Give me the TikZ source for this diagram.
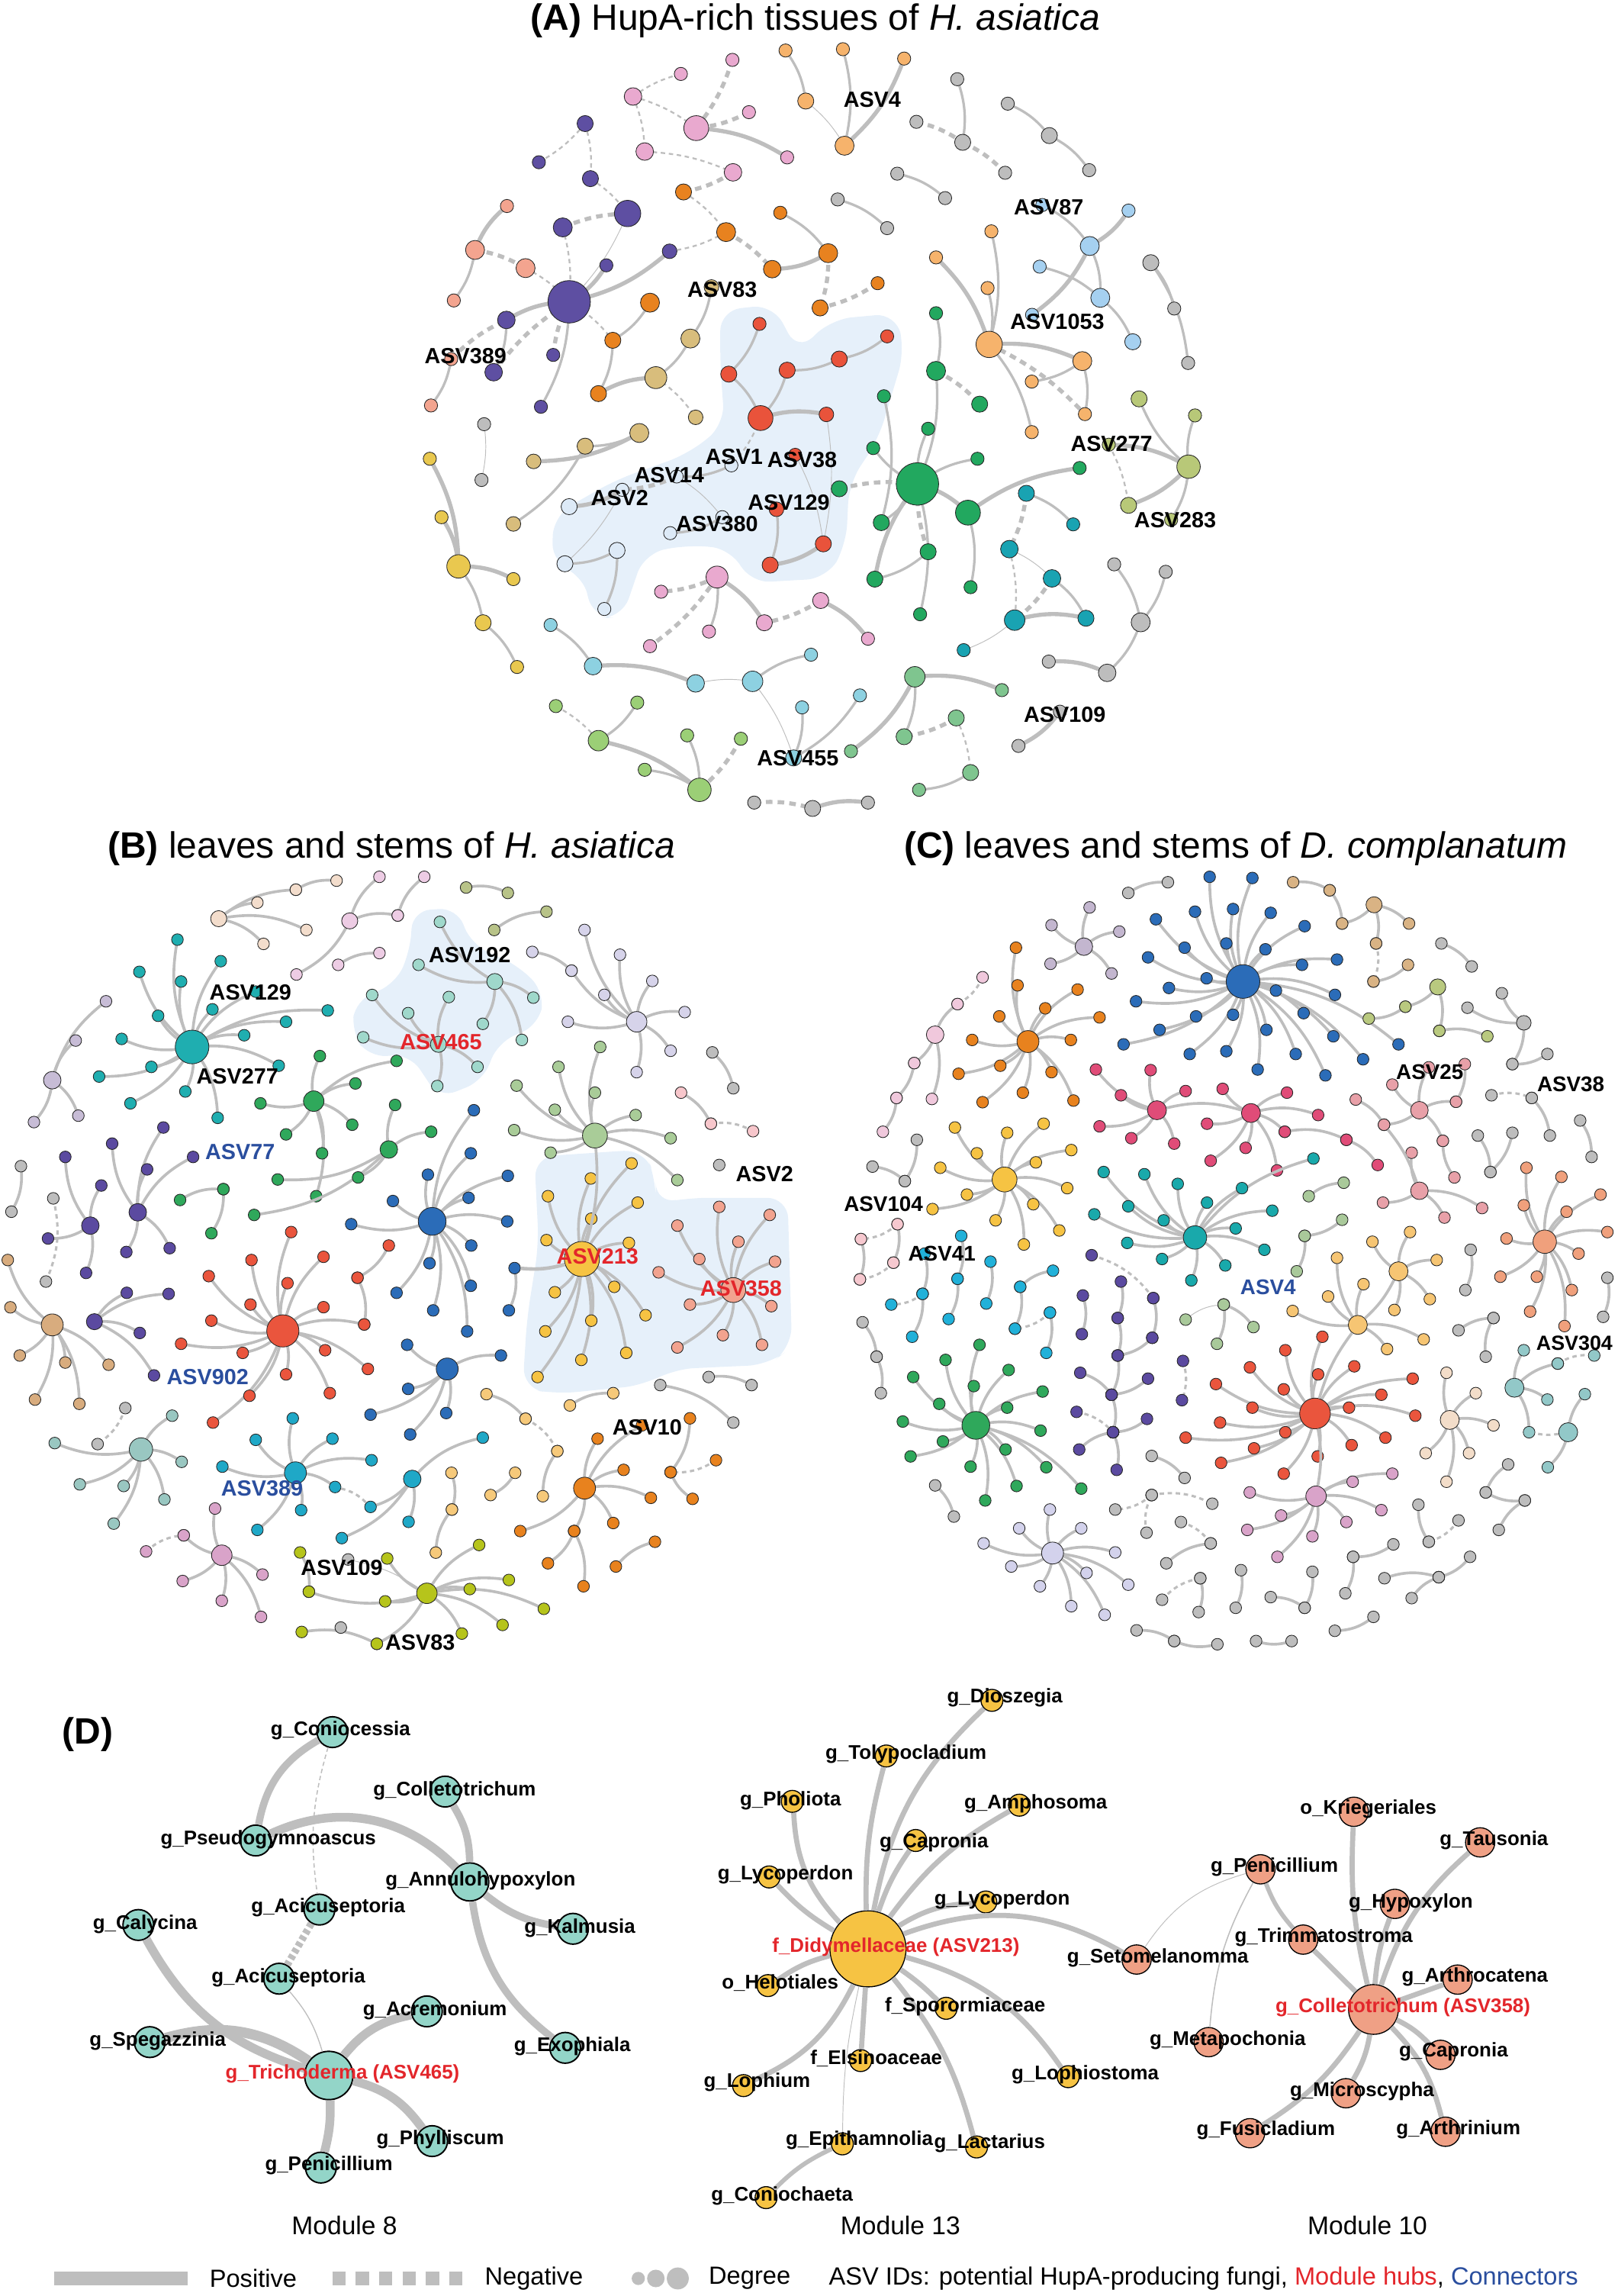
\documentclass[tikz,border=0pt]{standalone}
\usepackage{fontspec}
\setmainfont{Liberation Sans}
% edges / misc
\definecolor{edgeG}{HTML}{BEBEBE}\definecolor{blobC}{HTML}{E6F0FA}
\definecolor{labR}{HTML}{E3262B}\definecolor{labB}{HTML}{2A4E9E}\definecolor{grN}{HTML}{BDBDBD}
% A
\definecolor{pkA}{HTML}{E9A9CF}\definecolor{loA}{HTML}{F6B36C}\definecolor{puA}{HTML}{5E4FA2}
\definecolor{saA}{HTML}{F3A48F}\definecolor{odA}{HTML}{E8821F}\definecolor{tnA}{HTML}{D8BD7C}
\definecolor{rdA}{HTML}{E9533B}\definecolor{lbA}{HTML}{A5D0F0}\definecolor{gnA}{HTML}{22A85F}
\definecolor{ovA}{HTML}{B8C878}\definecolor{ywA}{HTML}{E9C84F}\definecolor{vbA}{HTML}{DDEAF7}
\definecolor{tlA}{HTML}{19A3B2}\definecolor{lcA}{HTML}{8DD1E1}\definecolor{lgA}{HTML}{9BCF76}
\definecolor{mgA}{HTML}{7FC58F}
% B
\definecolor{lvB}{HTML}{C7BCD6}\definecolor{pcB}{HTML}{F3DDCC}\definecolor{lpB}{HTML}{EDCCE4}
\definecolor{oB}{HTML}{B8C388}\definecolor{ltB}{HTML}{9FD8CB}\definecolor{tlB}{HTML}{1FAEB0}
\definecolor{gnB}{HTML}{2FA85B}\definecolor{puB}{HTML}{5B4AA0}\definecolor{tnB}{HTML}{D8AC7E}
\definecolor{rdB}{HTML}{EA553D}\definecolor{blB}{HTML}{2B6CB8}\definecolor{yeB}{HTML}{F6C343}
\definecolor{pgB}{HTML}{A9CC98}\definecolor{lvBb}{HTML}{D6D3EA}\definecolor{slB}{HTML}{F2A38F}
\definecolor{pkB}{HTML}{F7C6CB}\definecolor{orB}{HTML}{E8821E}\definecolor{loB}{HTML}{F6C97A}
\definecolor{cyB}{HTML}{1FA8C7}\definecolor{gtB}{HTML}{99C7C1}\definecolor{mvB}{HTML}{D9A3C9}
\definecolor{ygB}{HTML}{B6C41B}
% C
\definecolor{glC}{HTML}{C3B6CF}\definecolor{plC}{HTML}{F0C8DC}\definecolor{tnC}{HTML}{D9B384}
\definecolor{ovC}{HTML}{B9C97F}\definecolor{mgC}{HTML}{E04C78}\definecolor{psC}{HTML}{E8A0A8}
\definecolor{soC}{HTML}{F0A07C}\definecolor{tgC}{HTML}{92C8C8}\definecolor{crC}{HTML}{F3DDC9}
\definecolor{pkC}{HTML}{F6C8CF}\definecolor{cyC}{HTML}{21B1D9}\definecolor{tlC}{HTML}{19A9AB}
\definecolor{lgC}{HTML}{A9C99A}\definecolor{lyC}{HTML}{F6C573}\definecolor{lvC}{HTML}{D3D2EC}
% D
\definecolor{tqD}{HTML}{93D5C8}\definecolor{yeD}{HTML}{F6C343}\definecolor{slD}{HTML}{EFA085}

\def\spk{8pt}
\tikzset{
 nd/.style={circle,draw=black!85,line width=0.45pt,inner sep=0pt,minimum size=\spk},
 sp/.style={draw=edgeG,line width=1.9pt},
 spd/.style={draw=edgeG,line width=1.6pt,dash pattern=on 3pt off 2.5pt},
 spt/.style={draw=edgeG,line width=0.5pt},
 pthick/.style={draw=edgeG,line width=2.8pt},
 pmed/.style={draw=edgeG,line width=1.7pt},
 pthin/.style={draw=edgeG,line width=0.5pt},
 nthick/.style={draw=edgeG,line width=2.8pt,dash pattern=on 4.5pt off 3.5pt},
 nthin/.style={draw=edgeG,line width=1.2pt,dash pattern=on 3pt off 2.5pt},
 labA/.style={font=\bfseries\fontsize{15}{15}\selectfont,inner sep=0pt},
 labC/.style={font=\bfseries\fontsize{14.5}{15}\selectfont,inner sep=0pt},
 labD/.style={font=\bfseries\fontsize{13.5}{14}\selectfont,inner sep=0pt},
 ttl/.style={font=\fontsize{25}{25}\selectfont,inner sep=0pt},
 modl/.style={font=\fontsize{17.5}{18}\selectfont,inner sep=0pt},
 legt/.style={font=\fontsize{17}{17}\selectfont,inner sep=0pt},
 de/.style={draw=edgeG},
}
% hub with spokes: edges first (between coordinates), then nodes on top
\newcommand\hubc[6]{%
  \coordinate (#1) at (#3,#4);
  \foreach \px/\py [count=\k] in {#6}{%
    \coordinate (#1-\k) at (\px,\py);
    \draw[sp] (#1) to[bend left=18] (#1-\k);}
  \node[nd,fill=#2,minimum size=#5pt] (#1) at (#3,#4) {};
  \foreach \px/\py [count=\k] in {#6}{%
    \node[nd,fill=#2] (#1-\k) at (\px,\py) {};}}
% pairs
\newcommand\prs[4]{%
  \foreach \ax/\ay/\bx/\by [count=\k] in {#4}{%
    \coordinate (#1-\k-a) at (\ax,\ay);
    \coordinate (#1-\k-b) at (\bx,\by);
    \draw[#3] (#1-\k-a) to[bend left=18] (#1-\k-b);}
  \foreach \ax/\ay/\bx/\by [count=\k] in {#4}{%
    \node[nd,fill=#2] (#1-\k-a) at (\ax,\ay) {};
    \node[nd,fill=#2] (#1-\k-b) at (\bx,\by) {};}}

\def\Alist{p1/500.3/40.9/pkA/9, p2/465.1/50.5/pkA/9, p3/432.4/65.9/pkA/12, p4/511.6/76.6/pkA/9, p5/475.6/87.5/pkA/17, p6/440.4/103.5/pkA/12, p7/537.7/107.5/pkA/9, p8/500.7/117.7/pkA/12,
o1/536.6/34.5/loA/9, o2/575.8/33.6/loA/9, o3/617.6/40.0/loA/9, o4/550.4/69.0/loA/11, o5/576.9/99.5/loA/13,
g1/653.9/54.1/grN/9, g2/688.4/70.8/grN/9, g3/626.0/83.2/grN/9, g4/657.6/97.2/grN/11, g5/716.8/92.6/grN/11, g6/686.6/118.0/grN/9, g7/744.0/116.2/grN/9, g8/612.9/118.6/grN/9, g9/645.6/135.3/grN/9, g10/572.2/136.2/grN/9, g11/606.0/155.8/grN/9, g12/786.1/179.4/grN/11, g13/802.1/210.7/grN/9, g14/811.6/247.9/grN/9,
u1/399.7/84.4/puA/11, u2/368.1/110.8/puA/9, u3/403.3/122.0/puA/11, u4/428.7/145.8/puA/18, u5/384.4/155.3/puA/13, u6/457.4/171.6/puA/10, u7/414.2/181.2/puA/9, u8/388.8/206.1/puA/29, u9/345.9/218.5/puA/12, u10/377.9/242.4/puA/9, u11/337.2/254.2/puA/12, u12/369.5/277.8/puA/9,
s1/346.3/140.7/saA/9, s2/324.5/170.7/saA/13, s3/359.0/183.1/saA/13, s4/310.0/205.2/saA/9, s5/308.2/245.2/saA/9, s6/294.4/276.9/saA/9,
r1/466.9/131.1/odA/11, r2/533.0/145.3/odA/9, r3/496.0/158.5/odA/13, r4/565.7/172.9/odA/13, r5/527.5/183.8/odA/12, r6/599.5/193.4/odA/9, r7/444.0/206.7/odA/13, r8/560.2/210.3/odA/11, r9/418.6/232.4/odA/11, r10/408.8/268.8/odA/11,
t0/486.0/196.0/tnA/10, t1/471.6/231.2/tnA/13, t2/448.0/257.9/tnA/15, t3/475.2/285.0/tnA/10, t4/436.7/295.7/tnA/13, t5/399.7/304.7/tnA/11, t6/364.5/315.1/tnA/10, t7/350.7/357.8/tnA/10,
e1/518.8/221.2/rdA/9, e2/606.0/229.7/rdA/9, e3/497.8/255.5/rdA/11, e4/537.7/252.8/rdA/11, e5/573.3/245.2/rdA/11, e6/519.5/285.5/rdA/17, e7/564.5/283.0/rdA/10, e8/543.2/310.6/rdA/9, e9/530.4/347.8/rdA/10, e10/562.4/371.4/rdA/11, e11/526.1/385.9/rdA/11,
l1/677.2/158.0/loA/9, l2/639.4/175.8/loA/9, l3/674.6/196.7/loA/9, l4/675.7/235.2/loA/18, l5/739.3/246.6/loA/13, l6/704.8/260.6/loA/9, l7/741.1/282.8/loA/9, l8/704.8/295.1/loA/9,
b0/712.0/140.0/lbA/9, b1/770.9/143.8/lbA/9, b2/744.4/168.0/lbA/13, b3/710.2/182.1/lbA/9, b4/751.6/203.4/lbA/13, b5/705.0/215.0/lbA/9, b6/773.8/233.4/lbA/11,
n1/639.4/213.9/gnA/9, n2/639.4/253.3/gnA/13, n3/603.8/270.6/gnA/9, n4/669.2/276.0/gnA/11, n5/634.0/292.8/gnA/9, n6/596.5/306.0/gnA/9, n7/667.7/313.3/gnA/9, n8/737.5/319.6/gnA/9, n9/626.7/330.5/gnA/29, n10/573.3/333.8/gnA/11, n11/661.2/350.1/gnA/17, n12/602.0/356.9/gnA/11, n13/634.0/376.8/gnA/11, n14/597.6/395.5/gnA/11, n15/663.0/401.0/gnA/9, n16/628.5/419.5/gnA/9,
c1/701.1/336.9/tlA/11, c2/733.1/358.1/tlA/9, c3/689.5/375.0/tlA/12, c4/718.6/395.0/tlA/12, c5/693.1/423.5/tlA/14, c6/741.8/422.2/tlA/11, c7/658.3/444.0/tlA/9,
v1/757.4/303.7/ovA/9, v2/816.3/283.7/ovA/9, v3/811.9/318.7/ovA/16, v4/770.9/345.1/ovA/11, v5/800.0/355.0/ovA/9, v6/778.1/272.4/ovA/11,
y1/293.6/313.3/ywA/9, y2/301.6/353.2/ywA/9, y3/313.2/386.8/ywA/16, y4/350.7/395.5/ywA/9, y5/330.0/425.3/ywA/11, y6/353.2/455.5/ywA/9,
g15/330.7/289.7/grN/9, g16/328.9/327.8/grN/9, g17/761.1/385.4/grN/9, g18/796.3/390.5/grN/9, g19/779.2/425.0/grN/13, g20/716.4/451.8/grN/9, g21/756.3/459.5/grN/12, g22/695.7/509.4/grN/9, g23/724.0/486.0/grN/9, g24/515.2/548.1/grN/9, g25/555.1/552.1/grN/11, g26/592.9/548.1/grN/9,
w1/499.6/317.8/vbA/9, w2/462.2/325.4/vbA/9, w3/425.1/334.5/vbA/9, w4/388.8/346.0/vbA/11, w5/493.4/353.2/vbA/9, w6/457.8/364.1/vbA/9, w7/421.5/375.9/vbA/11, w8/385.9/385.0/vbA/11, w9/412.8/415.9/vbA/9,
q1/489.8/394.1/pkA/15, q2/451.6/404.1/pkA/9, q3/560.6/410.1/pkA/11, q4/522.1/425.3/pkA/11, q5/484.3/431.3/pkA/9, q6/592.9/436.2/pkA/9, q7/444.0/441.3/pkA/9,
k1/376.1/426.8/lcA/9, k2/405.1/454.9/lcA/12, k3/475.2/466.7/lcA/12, k4/514.1/465.3/lcA/14, k5/554.0/447.1/lcA/9, k6/547.9/483.1/lcA/9, k7/587.4/474.9/lcA/9, k8/542.1/517.6/lcA/11,
h1/379.7/482.2/lgA/9, h2/435.3/479.8/lgA/9, h3/408.8/505.8/lgA/14, h4/469.4/502.2/lgA/9, h5/506.1/504.5/lgA/9, h6/440.4/525.7/lgA/9, h7/477.8/539.4/lgA/16,
m1/624.9/462.2/mgA/14, m2/684.4/471.3/mgA/9, m3/653.2/490.3/mgA/11, m4/617.6/503.1/mgA/11, m5/581.3/513.0/mgA/9, m6/663.0/527.6/mgA/11, m7/627.8/539.4/mgA/9}

\begin{document}
\begin{tikzpicture}[x=1pt,y=-1pt]
\useasboundingbox (0,0) rectangle (1105,1568);
%%%%%%%%%%%%%%%% blobs (behind everything) %%%%%%%%%%%%%%%%
\fill[blobC,rounded corners=14pt] (492,212) -- (528,208) -- (545,240) -- (568,218) -- (612,214) -- (618,240) -- (600,300) -- (580,330) -- (578,372) -- (565,395) -- (512,398) -- (500,375) -- (470,372) -- (440,378) -- (425,422) -- (405,422) -- (398,392) -- (377,385) -- (378,352) -- (420,328) -- (470,310) -- (495,290) -- (492,250) -- cycle;
\fill[blobC,rounded corners=12pt] (282,622) -- (312,620) -- (322,645) -- (355,660) -- (372,678) -- (368,700) -- (340,712) -- (330,738) -- (300,750) -- (290,735) -- (280,720) -- (252,722) -- (240,705) -- (243,683) -- (270,672) -- (280,650) -- cycle;
\fill[blobC,rounded corners=14pt] (365,790) -- (440,785) -- (448,805) -- (448,822) -- (470,818) -- (538,818) -- (541,920) -- (525,932) -- (460,935) -- (440,946) -- (380,952) -- (357,948) -- (360,900) -- (368,850) -- cycle;

%%%%%%%%%%%%%%%% PANEL A %%%%%%%%%%%%%%%%
\node[ttl] (tA) at (557,14) {\textbf{(A)} HupA-rich tissues of \textit{H. asiatica}};
\foreach \nm/\x/\y/\cl/\sz in \Alist {\coordinate (\nm) at (\x,\y);}
\foreach \a/\b in {p5/p7, o3/o5, u6/u8, u7/u8, u9/u8, r4/r5, t4/t6, r10/t2, e6/e7, l2/l4, l4/l5, b1/b2, b2/b5, n11/n8, n9/n11, v1/v3, v3/v4, y1/y3, y2/y3, y3/y4, w3/w4, g20/g21, g23/g22, g25/g26, q1/q4, q3/q6, k2/k3, h3/h7, c5/c6, m1/m2, m1/m5, e10/e11, n14/n9, s2/s1}
 {\draw[pthick] (\a) to[bend left=14] (\b);}
\foreach \a/\b in {o1/o4, o2/o5, g1/g4, g2/g5, g5/g7, g8/g9, g10/g11, g12/g13, g12/g14, u8/u12, u9/u11, s2/s4, s5/s6, r2/r4, r7/r9, r9/r10, t0/t1, t1/t2, t5/t7, t4/t5, e1/e3, e2/e5, e5/e4, e4/e6, e3/e6, e9/e11, l1/l4, l3/l4, l5/l6, l5/l7, l4/l8, b2/b4, b4/b6, b0/b2, n1/n2, n2/n9, n9/n5, n9/n6, n9/n7, n9/n12, n9/n16, n11/n15, n13/n14, n3/n12, c1/c2, c4/c6, v3/v2, v3/v5, v3/v6, y3/y5, y5/y6, g17/g19, g18/g19, g19/g21, w1/w2, w5/w6, w7/w8, w7/w9, q1/q5, k1/k2, k6/k8, k7/k8, h2/h3, h4/h7, h6/h7, m1/m4, m6/m7, k4/k5, b3/b4}
 {\draw[pmed] (\a) to[bend left=14] (\b);}
\foreach \a/\b in {o4/o5, u4/u8, e8/e10, e7/e10, w2/w5, w3/w8, k4/k8, k3/k4, c3/c4, c5/c7, g15/g16}
 {\draw[pthin] (\a) to[bend left=10] (\b);}
\foreach \a/\b in {p1/p5, p8/r1, u5/u4, s2/s3, r4/r8, r6/r8, u11/u8, w2/w3, n10/n9, n13/n9, c1/c3, c4/c5, q1/q2, q1/q7, q3/q4, h5/h7, g24/g25, r3/r5, p4/p5, g3/g4, g4/g6, l4/l7, n2/n4, m3/m4, u10/u8, s5/u9}
 {\draw[nthick] (\a) to[bend left=10] (\b);}
\foreach \a/\b in {p3/p2, p3/p5, p3/p6, p6/p8, u1/u2, u1/u3, u3/u4, u5/u8, s3/u8, r1/r3, r3/u6, e6/w1, m3/m6, t2/t3, h1/h3, v1/v4, c3/c5, u8/r9}
 {\draw[nthin] (\a) to[bend left=10] (\b);}
\foreach \nm/\x/\y/\cl/\sz in \Alist {\node[nd,fill=\cl,minimum size=\sz pt] (\nm) at (\x,\y) {};}
\node[labA] (aL4) at (595.8,68.1) {ASV4};
\node[labA] (aL87) at (716.4,141.3) {ASV87};
\node[labA] (aL83) at (493.4,197.9) {ASV83};
\node[labA] (aL1053) at (722.2,219.7) {ASV1053};
\node[labA] (aL389) at (318.0,243.3) {ASV389};
\node[labA] (aL277) at (759.3,302.9) {ASV277};
\node[labA] (aL1) at (501.4,312.0) {ASV1};
\node[labA] (aL38) at (547.9,313.8) {ASV38};
\node[labA] (aL14) at (457.1,324.2) {ASV14};
\node[labA] (aL2) at (423.3,340.0) {ASV2};
\node[labA] (aL129) at (538.8,343.2) {ASV129};
\node[labA] (aL380) at (489.8,357.8) {ASV380};
\node[labA] (aL283) at (802.8,355.0) {ASV283};
\node[labA] (aL109) at (727.3,488.2) {ASV109};
\node[labA] (aL455) at (545.0,518.0) {ASV455};

%%%%%%%%%%%%%%%% PANEL B %%%%%%%%%%%%%%%%
\node[ttl] (tB) at (267.4,579.4) {\textbf{(B)} leaves and stems of \textit{H. asiatica}};
\hubc{bT}{tlB}{131.2}{715.0}{23}{121.2/641.7, 150.8/656.4, 95.2/663.7, 123.7/670.3, 145.1/689.3, 108.0/693.7, 195.4/697.8, 223.9/690.1, 83.1/709.5, 166.8/707.0, 103.4/728.6, 67.7/735.2, 190.4/727.8, 126.6/745.4, 89.1/753.5, 148.7/763.4, 174.7/677.2}
\hubc{bL}{lvB}{35.7}{737.7}{12}{72.4/683.8, 51.7/710.6, 23.2/766.3, 53.5/761.9}
\hubc{bP}{pcB}{149.4}{627.4}{11}{175.8/616.4, 202.1/607.6, 209.3/635.1, 180.0/644.6}
\hubc{bK}{lpB}{238.9}{628.9}{11}{259.2/598.8, 202.5/665.5, 271.7/625.2}
\hubc{bH}{ltB}{299.5}{713.2}{11}{254.2/679.5, 278.8/691.9, 248.1/708.4, 326.2/728.6, 298.7/741.7, 306.6/680.9}
\hubc{bHb}{ltB}{338.0}{670.3}{11}{300.5/629.6, 285.9/658.9, 364.3/681.3, 356.5/710.2, 329.8/699.2}
\hubc{bG}{gnB}{214.3}{752.0}{14}{218.5/721.2, 242.8/739.9, 270.9/724.5, 177.9/753.5, 195.4/774.7, 240.6/768.1, 220.0/787.6, 216.0/816.9}
\hubc{bGb}{gnB}{265.6}{785.0}{12}{269.9/754.6, 294.5/772.9, 244.6/804.1, 189.7/805.5, 173.6/829.7}
\hubc{bU}{puB}{94.1}{827.9}{12}{111.6/770.0, 76.6/781.0, 100.5/798.6, 86.3/855.0, 115.9/852.4, 131.9/790.1}
\hubc{bUb}{puB}{61.7}{837.0}{12}{44.6/790.1, 69.2/809.6, 32.8/845.8, 58.8/869.3}
\hubc{bUc}{puB}{64.5}{902.6}{11}{86.6/882.9, 95.5/910.3, 105.2/939.3, 115.2/883.6}
\hubc{bN}{tnB}{35.7}{904.8}{15}{5.3/860.5, 7.1/892.8, 13.5/925.7, 23.9/955.8, 44.6/930.5, 74.2/932.0, 54.2/958.7}
\hubc{bR}{rdB}{193.2}{908.9}{22}{198.9/841.4, 171.8/860.5, 221.0/858.3, 142.6/871.5, 196.4/876.3, 171.1/890.9, 221.0/892.7, 144.4/901.9, 248.8/904.5, 123.7/917.7, 165.8/923.9, 222.1/922.1, 195.4/938.6, 170.4/953.2, 225.3/951.4, 251.3/934.9, 145.5/971.5}
\hubc{bB}{blB}{295.2}{834.1}{19}{323.7/758.2, 321.6/787.6, 292.3/802.2, 346.9/803.0, 268.4/820.2, 320.1/818.0, 239.9/836.0, 346.5/834.1, 321.9/850.6, 293.4/862.7, 270.9/882.9, 321.6/878.1, 295.9/894.9, 319.1/909.2}
\hubc{bBb}{blB}{305.5}{934.9}{15}{278.1/918.4, 342.2/925.7, 278.8/948.5, 304.8/965.0, 253.1/966.1, 280.2/979.6}
\hubc{bY}{yeB}{397.5}{859.8}{24}{431.4/794.5, 403.6/804.8, 374.3/816.9, 435.6/821.3, 403.9/832.3, 373.3/846.9, 429.6/848.8, 419.6/878.8, 379.0/882.5, 441.0/898.2, 403.9/901.9, 372.5/909.2, 427.8/923.9, 397.1/928.7, 367.2/940.4}
\hubc{bQ}{pgB}{406.4}{775.5}{17}{410.0/715.0, 381.5/728.6, 406.4/746.2, 379.0/757.9, 434.2/761.5, 351.2/771.8, 458.1/777.3, 376.1/787.2, 462.7/805.9, 352.9/741.4}
\hubc{bV}{lvBb}{434.9}{697.8}{14}{399.3/635.1, 423.5/652.0, 390.4/662.9, 412.8/679.4, 445.6/669.9, 467.7/691.2, 387.9/697.8, 458.1/717.6, 434.9/732.2}
\hubc{bS}{slB}{500.9}{881.0}{17}{462.7/837.0, 491.3/824.2, 525.8/829.7, 504.4/848.0, 477.7/859.8, 529.4/861.6, 449.9/868.9, 471.3/890.9, 526.9/892.0, 493.8/911.8, 462.7/920.2, 520.5/918.4}
\hubc{bO}{orB}{399.3}{1016.3}{15}{408.2/982.5, 426.0/1003.8, 444.6/1022.9, 418.9/1040.1, 392.2/1045.6, 355.4/1045.6, 438.5/973.4}
\hubc{bC}{cyB}{201.8}{1005.8}{15}{200.0/968.6, 174.7/983.3, 227.1/982.5, 151.9/1001.6, 253.8/997.2, 228.9/1015.5, 205.7/1031.3, 175.8/1044.8}
\hubc{bCb}{cyB}{281.6}{1010.0}{12}{253.1/1029.1, 279.1/1039.3, 233.5/1050.4, 329.8/981.8}
\hubc{bX}{gtB}{96.3}{989.9}{16}{117.6/966.8, 37.4/985.5, 124.1/998.3, 54.5/1013.7, 84.5/1014.8, 112.3/1024.0, 77.7/1040.5}
\hubc{bM}{mvB}{151.5}{1062.1}{14}{146.9/1030.2, 125.5/1048.5, 179.3/1075.3, 124.8/1079.7, 151.5/1093.2, 178.3/1104.2}
\hubc{bW}{ygB}{291.6}{1088.1}{14}{264.5/1064.3, 327.3/1055.1, 211.0/1087.0, 263.1/1093.6, 320.9/1085.2, 347.6/1079.0, 371.5/1098.7, 343.3/1109.7, 315.5/1115.6, 257.4/1122.6}
\prs{bp1}{pcB}{sp}{202.1/607.6/229.9/601.4}
\prs{bp2}{lpB}{sp}{271.7/625.2/289.8/598.8, 231.0/658.9/259.2/650.9}
\prs{bp3}{oB}{sp}{318.4/606.1/346.9/609.8, 337.6/635.1/373.3/622.6}
\prs{bp4}{lvBb}{sp}{363.6/650.1/390.4/662.9}
\prs{bp5}{pkB}{sp}{465.2/746.2/485.6/767.4}
\prs{bp5d}{pkB}{spd}{485.6/767.4/514.4/772.5}
\prs{bp6}{grN}{sp}{486.6/718.7/500.9/743.2, 14.3/796.4/7.8/827.5, 451.0/945.9/500.9/971.5, 484.1/940.4/513.4/945.9}
\prs{bp6d}{grN}{spd}{36.4/818.4/31.4/875.2, 85.6/961.6/66.7/986.2}
\node[nd,fill=grN] (bN2) at (491.3,795.6) {};
\prs{bp7}{gnB}{sp}{152.6/812.1/144.4/842.2, 123.0/819.5/152.6/812.1}
\prs{bp8}{rdB}{sp}{244.2/872.6/248.8/904.5, 265.6/850.6/244.2/872.6}
\prs{bp9}{blB}{sp}{351.5/866.0/347.6/894.9}
\prs{bp10}{orB}{sp}{471.3/968.6/458.1/1005.4, 473.1/1023.6/458.1/1005.4, 392.2/1045.6/374.3/1067.6, 392.2/1045.6/398.6/1083.3, 420.7/1069.8/447.4/1052.9}
\prs{bp10d}{orB}{spd}{489.1/997.2/458.1/1005.4}
\prs{bp11}{loB}{sp}{332.3/952.1/359.0/968.9, 389.3/959.8/418.9/951.4, 308.4/1005.8/308.7/1030.9, 351.9/1005.8/335.1/1021.0, 370.8/1021.8/380.7/991.0, 297.7/1060.3/308.7/1030.9}
\prs{bp11d}{loB}{spd}{359.0/968.9/380.7/991.0}
\prs{bp12}{mvB}{spd}{99.8/1059.5/125.5/1048.5}
\prs{bp13}{ygB}{sp}{205.0/1060.2/211.0/1087.0, 206.1/1114.5/257.4/1122.6}
\node[nd,fill=grN] (bGr1) at (232.8,1111.5) {};
\node[nd,fill=grN] (bGr2) at (237.8,1065.0) {};
\draw[sp,line width=2.4pt] (bY) to[bend left=10] (bp9-1-a);
\draw[sp] (bQ) to[bend left=10] (bY);
\draw[spt] (bGr2) to[bend left=10] (bW);
\draw[spd] (bC-6) to[bend left=15] (bCb-1);
\node[labA] (bL192) at (320.9,652.0) {ASV192};
\node[labA] (bL129) at (171.1,677.6) {ASV129};
\node[labA,text=labR] (bL465) at (301.2,711.7) {ASV465};
\node[labA] (bL277) at (162.2,735.2) {ASV277};
\node[labA,text=labB] (bL77) at (164.0,786.5) {ASV77};
\node[labA] (bL2) at (522.3,801.9) {ASV2};
\node[labA,text=labR] (bL213) at (408.2,857.9) {ASV213};
\node[labA,text=labR] (bL358) at (506.2,880.0) {ASV358};
\node[labA,text=labB] (bL902) at (141.9,940.4) {ASV902};
\node[labA] (bL10) at (442.1,974.5) {ASV10};
\node[labA,text=labB] (bL389) at (179.0,1016.3) {ASV389};
\node[labA] (bL109) at (233.5,1070.5) {ASV109};
\node[labA] (bL83) at (287.0,1121.8) {ASV83};

%%%%%%%%%%%%%%%% PANEL C %%%%%%%%%%%%%%%%
\node[ttl] (tC) at (844,579.4) {\textbf{(C)} leaves and stems of \textit{D. complanatum}};
\hubc{cB}{blB}{849.1}{670.3}{23}{826.3/598.8, 855.5/599.6, 816.3/622.6, 842.3/620.8, 868.0/623.4, 789.6/627.8, 891.2/632.5, 809.2/647.2, 837.7/644.3, 864.4/648.3, 784.2/653.8, 913.3/655.3, 889.4/658.9, 824.2/668.1, 798.5/674.7, 871.6/676.5, 911.9/679.4, 776.0/683.8, 817.0/694.1, 842.3/693.0, 890.5/691.9, 792.1/703.3, 865.1/703.3, 910.8/707.7, 767.5/713.2, 837.7/717.9, 812.7/719.8, 885.1/719.8, 859.1/730.4, 931.1/723.4, 905.4/734.4, 955.3/713.2}
\hubc{cO}{orB}{702.2}{711.3}{15}{694.0/647.2, 695.1/672.9, 736.1/675.8, 682.6/694.1, 714.0/688.6, 751.1/694.8, 664.1/710.2, 731.5/710.2, 683.3/727.8, 654.8/733.3, 718.3/732.2, 698.7/746.2, 671.2/752.7, 733.3/751.6}
\hubc{cL}{glC}{740.4}{646.5}{12}{744.3/619.7, 718.3/631.8, 764.6/636.2, 717.6/658.2, 759.3/664.8}
\hubc{cK}{plC}{638.8}{706.6}{12}{654.1/685.7, 624.5/726.0, 636.6/750.5}
\hubc{cN}{tnC}{938.6}{617.9}{11}{916.8/630.7, 962.5/630.7, 940.0/644.3}
\hubc{cW}{ovC}{982.1}{674.0}{11}{960.0/687.5, 983.2/704.0}
\hubc{cH}{grN}{1040.9}{698.5}{10}{1025.9/678.3, 1002.4/688.2, 1033.1/726.7}
\hubc{cM}{mgC}{790.3}{758.2}{13}{748.6/730.4, 786.0/730.8, 765.7/748.0, 751.1/769.2, 772.8/777.3, 802.1/781.0, 809.9/745.1}
\hubc{cMb}{mgC}{854.5}{760.1}{13}{835.2/743.6, 879.1/746.2, 900.4/761.5, 877.6/772.9, 850.9/783.9, 827.0/792.7, 872.3/799.3, 824.5/767.4}
\hubc{cA}{psC}{969.6}{758.2}{12}{951.1/740.7, 976.0/728.9, 994.6/752.4, 945.4/768.1, 985.6/779.1}
\hubc{cAb}{psC}{969.6}{813.2}{12}{944.7/821.3, 986.7/831.5, 1012.4/825.0, 964.3/787.2}
\hubc{cS}{soC}{1055.2}{848.0}{16}{1042.7/797.5, 1066.6/803.7, 1093.3/815.8, 1040.9/823.1, 1070.1/827.5, 1029.1/845.8, 1098.0/841.4, 1078.3/856.1, 1024.9/871.9, 1049.8/871.9, 1073.7/881.0, 1045.2/895.7, 1068.7/905.6}
\hubc{cQ}{tgC}{1034.5}{947.7}{13}{1040.9/922.1, 1057.0/955.8, 1044.5/978.1, 1064.1/931.2}
\hubc{cQb}{tgC}{1071.2}{978.1}{13}{1082.6/952.1, 1057.3/1002.0}
\hubc{cE}{crC}{990.3}{969.7}{13}{988.1/937.5, 1008.1/951.4, 1020.2/973.4, 973.9/992.4, 1003.5/992.4, 988.1/1011.9}
\hubc{cY}{yeB}{686.2}{805.5}{17}{652.3/770.0, 688.0/773.6, 712.9/767.4, 667.3/787.6, 731.8/785.4, 642.3/797.5, 707.6/793.8, 729.0/811.4, 660.5/815.8, 637.0/825.7, 705.8/822.4, 680.1/833.4, 723.6/840.3, 699.4/849.9}
\hubc{cT}{tlC}{816.3}{845.1}{16}{753.9/800.4, 781.7/801.9, 804.5/808.5, 848.4/811.4, 747.5/829.3, 770.7/823.8, 794.9/833.4, 824.5/821.3, 869.1/826.8, 897.2/791.2, 770.0/848.8, 844.1/838.9, 863.7/853.5, 793.8/859.8, 837.0/864.2, 813.8/874.4}
\hubc{cF}{lyC}{955.3}{868.2}{13}{937.5/848.0, 963.2/841.4, 981.4/860.5, 976.7/887.2, 952.5/894.6}
\hubc{cFb}{lyC}{927.5}{904.8}{13}{913.3/859.0, 931.4/877.0, 907.2/885.4, 883.0/895.3, 947.5/921.3, 972.5/914.7}
\hubc{cR}{rdB}{898.3}{965.3}{21}{903.3/912.9, 878.0/922.1, 925.1/933.1, 853.8/933.8, 900.4/938.6, 965.0/941.5, 830.6/945.2, 876.9/948.8, 943.6/952.5, 855.5/961.3, 921.5/961.3, 966.8/966.8, 833.4/971.5, 809.9/981.8, 878.0/978.1, 946.4/981.8, 923.3/986.9, 856.6/989.1, 900.1/994.6, 834.1/999.0, 876.9/1006.4}
\hubc{cP}{mvB}{899.0}{1021.8}{14}{853.7/1019.2, 924.0/1011.9, 951.1/1006.4, 875.1/1035.0, 919.7/1039.4, 943.6/1031.3, 852.0/1044.8, 896.5/1049.2, 872.6/1063.2}
\hubc{cV}{lvC}{719.0}{1060.6}{15}{717.2/1030.9, 738.6/1043.7, 696.2/1043.7, 671.9/1054.0, 761.8/1060.2, 690.8/1069.8, 742.2/1074.2, 710.4/1083.3, 770.7/1082.2, 731.8/1096.9, 754.6/1102.8}
\hubc{cG}{gnB}{666.6}{973.4}{19}{669.1/918.4, 645.9/928.7, 689.0/935.6, 623.8/940.4, 665.2/946.6, 641.6/958.7, 712.2/950.3, 688.0/961.3, 616.7/970.8, 710.8/977.0, 644.1/984.4, 686.9/989.9, 622.0/994.6, 663.0/1001.6, 714.7/1002.0, 694.4/1014.8, 673.0/1024.7, 738.6/1016.6}
\prs{cp1}{grN}{sp}{770.7/609.8/797.8/602.5, 984.6/644.3/1005.3/660.0, 626.3/778.4/618.1/806.6, 596.0/796.7/618.1/806.6, 1046.3/749.8/1058.7/775.5, 1079.4/765.2/1087.2/790.1, 1009.5/775.5/1018.1/800.4, 1033.1/773.6/1018.1/800.4, 1004.6/853.5/1001.0/881.0, 1098.0/872.6/1095.1/899.3, 996.3/908.5/1020.2/900.1, 1014.9/926.5/1020.2/900.1, 1057.0/719.8/1033.1/726.7, 589.2/903.0/598.8/926.5, 598.8/926.5/601.7/951.4, 638.8/1014.4/651.6/1035.7, 786.7/994.3/809.2/1009.3, 796.7/1067.6/827.0/1054.0, 819.9/1077.8/818.8/1100.9, 847.7/1072.3/844.1/1098.0, 868.0/1090.7/891.2/1098.0, 896.5/1073.4/891.2/1098.0, 924.3/1063.2/919.0/1088.1, 951.8/1054.7/924.3/1063.2, 945.7/1077.8/982.8/1077.1, 964.3/1091.4/982.8/1077.1, 1004.2/1063.2/982.8/1077.1, 976.0/1052.9/968.9/1027.6, 1014.9/1019.2/1030.2/1000.1, 1041.6/1024.7/1014.9/1019.2, 1023.8/1044.8/1041.6/1024.7, 938.2/1104.2/911.8/1113.7, 882.3/1120.7/858.0/1120.7, 831.6/1122.9/802.1/1120.7, 776.4/1113.4/802.1/1120.7}
\prs{cp1d}{grN}{spd}{1018.8/748.0/1046.3/749.8, 786.7/1021.0/761.8/1030.9, 786.7/1021.0/828.1/1026.9, 783.2/1046.7/786.7/1021.0, 806.7/1039.4/827.0/1054.0, 793.8/1092.5/819.9/1077.8, 996.3/1038.3/976.0/1052.9}
\prs{cp2}{tnC}{sp}{883.3/602.5/908.3/608.0, 908.3/608.0/916.8/630.7, 961.8/658.9/938.2/670.3}
\prs{cp2d}{tnC}{spd}{940.0/644.3/938.2/670.3}
\prs{cp3}{ovC}{sp}{960.0/687.5/935.0/695.6, 983.2/704.0/1016.0/707.7}
\prs{cp4}{plC}{sp}{624.5/726.0/612.4/749.8, 612.4/749.8/603.1/772.9}
\prs{cp4d}{plC}{spd}{671.2/667.4/654.1/685.7}
\prs{cp5}{mgC}{sp}{919.7/778.4/941.1/795.6, 877.6/772.9/919.7/778.4}
\prs{cp6}{psC}{sp}{926.1/750.9/945.4/768.1, 1000.6/726.7/994.6/752.4, 993.5/804.1/985.6/779.1}
\prs{cp7}{tgC}{spd}{1064.1/931.2/1089.0/925.7}
\prs{cp8}{pkC}{sp}{588.1/846.2/587.4/873.7, 613.1/836.0/610.3/862.3}
\prs{cp8d}{pkC}{spd}{613.1/836.0/588.1/846.2, 610.3/862.3/587.4/873.7}
\prs{cp9}{cyC}{sp}{656.6/844.0/654.1/873.3, 631.6/856.1/630.2/883.6, 630.2/883.6/623.1/912.9, 676.6/861.6/673.7/890.2, 654.1/873.3/648.0/900.8, 696.9/878.8/719.3/867.8, 696.9/878.8/693.3/907.4, 717.2/896.4/714.7/923.9}
\prs{cp9d}{cyC}{spd}{630.2/883.6/608.8/890.9, 717.2/896.4/693.3/907.4}
\prs{cp10}{lgC}{sp}{894.0/816.9/917.9/807.7, 916.8/833.0/891.2/844.0, 891.2/844.0/885.8/868.2, 835.9/890.9/856.2/906.3, 835.9/890.9/831.3/917.7}
\prs{cp10t}{lgC}{spt}{809.9/901.2/835.9/890.9}
\prs{cp11}{puB}{sp}{765.7/875.2/763.5/900.1, 739.7/884.7/739.0/911.1, 787.8/886.5/787.1/913.6, 763.5/900.1/763.5/925.7, 787.1/913.6/763.5/925.7, 763.5/925.7/759.3/952.5, 737.9/937.5/759.3/952.5, 784.2/941.5/759.3/952.5, 759.3/952.5/760.3/978.1, 783.5/969.0/760.3/978.1, 760.3/978.1/762.8/1003.8, 737.2/989.9/760.3/978.1}
\prs{cp11d}{puB}{spd}{745.7/857.2/787.8/886.5, 808.1/929.4/807.4/956.2, 735.4/964.2/760.3/978.1}
\draw[sp] (cM) to[bend left=15] (cMb);
\draw[sp] (cF) to[bend left=10] (cFb);
\draw[sp] (cR) to[bend left=10] (cFb);
\draw[sp] (cR) to[bend left=10] (cP);
\draw[spd] (cQb) to[bend left=10] (cQ-3);
\draw[sp] (cA-4) to[bend left=10] (cAb);
\node[labC] (cL25) at (976.7,732.2) {ASV25};
\node[labC] (cL38) at (1073.0,740.3) {ASV38};
\node[labC] (cL104) at (603.5,822.4) {ASV104};
\node[labC] (cL41) at (643.4,856.1) {ASV41};
\node[labC,text=labB] (cL4) at (866.2,878.8) {ASV4};
\node[labC,font=\bfseries\fontsize{14}{14}\selectfont] (cL304) at (1075.5,917.5) {ASV304};

%%%%%%%%%%%%%%%% PANEL D %%%%%%%%%%%%%%%%
\node[ttl,font=\bfseries\fontsize{25}{25}\selectfont] (tD) at (59.9,1184.7) {(D)};
% Module 8
\foreach \nm/\x/\y/\sz in {dConi/227.1/1182.9/21, dColl/304.1/1223.5/21, dPseu/174.7/1256.9/21, dAnnu/320.9/1285.2/26, dAci1/218.2/1304.1/21, dKalm/391.4/1317.2/21, dCaly/94.5/1314.6/21, dAci2/190.7/1351.3/21, dAcre/291.6/1373.6/21, dSpeg/102.3/1394.6/21, dExo/386.1/1398.5/21, dTric/224.6/1417.4/33, dPhyl/295.2/1462.2/21, dPeni/219.2/1480.3/21}
{\node[nd,fill=tqD,line width=1pt,draw=black,minimum size=\sz pt] (\nm) at (\x,\y) {};}
\draw[de,line width=5pt] (dConi) to[bend right=25] (dPseu);
\draw[de,line width=0.8pt,dash pattern=on 3pt off 2pt] (dConi) to[bend right=12] (dAci1);
\draw[de,line width=6pt] (dPseu) to[bend left=35] (dAnnu);
\draw[de,line width=5pt] (dColl) to[bend left=15] (dAnnu);
\draw[de,line width=5pt] (dAnnu) to[bend right=15] (dKalm);
\draw[de,line width=5pt] (dAnnu) to[bend right=22] (dExo);
\draw[de,line width=5pt,dash pattern=on 3pt off 2pt] (dAci1) -- (dAci2);
\draw[de,line width=0.7pt] (dAci2) to[bend left=12] (dTric);
\draw[de,line width=6pt] (dCaly) to[bend right=22] (dTric);
\draw[de,line width=7pt] (dSpeg) to[bend left=25] (dTric);
\draw[de,line width=6pt] (dAcre) to[bend right=20] (dTric);
\draw[de,line width=6pt] (dTric) to[bend left=20] (dPhyl);
\draw[de,line width=6pt] (dTric) to[bend left=8] (dPeni);
\node[labD] (lConi) at (232.6,1181.6) {g\_Coniocessia};
\node[labD] (lColl) at (310.5,1222.8) {g\_Colletotrichum};
\node[labD] (lPseu) at (183.3,1256.1) {g\_Pseudogymnoascus};
\node[labD] (lAnnu) at (328.2,1284.4) {g\_Annulohypoxylon};
\node[labD] (lAci1) at (224.2,1302.8) {g\_Acicuseptoria};
\node[labD] (lKalm) at (396.1,1316.7) {g\_Kalmusia};
\node[labD] (lCaly) at (99.1,1314.0) {g\_Calycina};
\node[labD] (lAci2) at (197.0,1350.8) {g\_Acicuseptoria};
\node[labD] (lAcre) at (297.1,1372.8) {g\_Acremonium};
\node[labD] (lSpeg) at (107.7,1394.0) {g\_Spegazzinia};
\node[labD] (lExo) at (390.9,1397.7) {g\_Exophiala};
\node[labD,text=labR] (lTric) at (234.0,1416.3) {g\_Trichoderma (ASV465)};
\node[labD] (lPhyl) at (300.7,1460.9) {g\_Phylliscum};
\node[labD] (lPeni) at (224.6,1479.0) {g\_Penicillium};
\node[modl] (mod8) at (235.3,1520) {Module 8};
% Module 13
\foreach \nm/\x/\y/\sz in {eDid/592.9/1330.9/52, eDio/677.6/1161.2/15, eTol/605.4/1199.2/15, ePho/541.2/1230.2/15, eAmp/696.3/1232.8/15, eCap/625.5/1256.9/15, eLyc/525.4/1281.8/15, eLycb/673.4/1298.9/15, eHel/524.6/1356.0/15, eSpo/646.3/1371.5/15, eEls/587.9/1407.2/15, eLop/507.9/1424.3/15, eLos/729.7/1418.2/15, eEpi/575.4/1464.1/15, eLac/667.1/1466.2/15, eCon/523.3/1500.8/15}
{\node[nd,fill=yeD,line width=0.7pt,draw=black,minimum size=\sz pt] (\nm) at (\x,\y) {};}
% Module 10
\foreach \nm/\x/\y/\sz in {fCol/938.2/1372.3/34, fKri/924.8/1237.3/20, fTau/1011.1/1258.2/20, fPen/861.0/1276.6/20, fHyp/952.8/1300.2/20, fTri/890.2/1324.6/20, fSet/776.4/1338.2/20, fArt/995.7/1351.9/20, fMet/825.6/1394.6/20, fCap/984.0/1403.3/20, fMic/919.4/1429.5/20, fFus/853.9/1456.8/20, fArh/987.4/1455.8/20}
{\node[nd,fill=slD,line width=0.7pt,draw=black,minimum size=\sz pt] (\nm) at (\x,\y) {};}
\draw[de,line width=3.5pt] (eDid) to[bend left=18] (eDio);
\draw[de,line width=3.5pt] (eDid) to[bend left=8] (eTol);
\draw[de,line width=3.5pt] (eDid) to[bend left=20] (ePho);
\draw[de,line width=3.5pt] (eDid) to[bend left=12] (eAmp);
\draw[de,line width=3.5pt] (eDid) to[bend left=8] (eCap);
\draw[de,line width=3.5pt] (eDid) to[bend left=8] (eLyc);
\draw[de,line width=3.5pt] (eDid) to[bend left=15] (eLycb);
\draw[de,line width=3.5pt] (eDid) to[bend right=10] (eHel);
\draw[de,line width=3.5pt] (eDid) to[bend left=5] (eSpo);
\draw[de,line width=3.5pt] (eDid) -- (eEls);
\draw[de,line width=3.5pt] (eDid) to[bend left=20] (eLop);
\draw[de,line width=3.5pt] (eDid) to[bend left=20] (eLos);
\draw[de,line width=3.5pt] (eDid) to[bend left=12] (eLac);
\draw[de,line width=0.5pt] (eDid) to[bend right=6] (eEpi);
\draw[de,line width=3pt] (eEpi) to[bend right=10] (eCon);
\draw[de,line width=3.5pt] (eDid) to[bend left=25] (fSet);
\draw[de,line width=3.5pt] (fCol) to[bend left=8] (fKri);
\draw[de,line width=3.5pt] (fCol) to[bend left=15] (fTau);
\draw[de,line width=3.5pt] (fCol) to[bend left=8] (fHyp);
\draw[de,line width=3.5pt] (fCol) -- (fTri);
\draw[de,line width=3pt] (fPen) to[bend right=10] (fTri);
\draw[de,line width=3.5pt] (fCol) -- (fArt);
\draw[de,line width=3.5pt] (fCol) to[bend left=10] (fCap);
\draw[de,line width=3.5pt] (fCol) to[bend left=10] (fMic);
\draw[de,line width=3.5pt] (fCol) to[bend left=12] (fFus);
\draw[de,line width=3.5pt] (fCol) to[bend left=15] (fArh);
\draw[de,line width=0.5pt] (fPen) to[bend right=20] (fSet);
\draw[de,line width=0.8pt] (fPen) to[bend right=12] (fMet);
\node[labD] (lDio) at (686.4,1159.3) {g\_Dioszegia};
\node[labD] (lTol) at (618.9,1197.8) {g\_Tolypocladium};
\node[labD] (lPho) at (540.0,1229.8) {g\_Pholiota};
\node[labD] (lAmp) at (707.5,1231.9) {g\_Amphosoma};
\node[labD] (lCap) at (638.0,1258.2) {g\_Capronia};
\node[labD] (lLyc) at (536.5,1280.5) {g\_Lycoperdon};
\node[labD] (lLycb) at (684.5,1297.5) {g\_Lycoperdon};
\node[labD,text=labR] (lDid) at (612.0,1329.8) {f\_Didymellaceae (ASV213)};
\node[labD] (lHel) at (532.9,1354.4) {o\_Helotiales};
\node[labD] (lSpo) at (659.3,1370.4) {f\_Sporormiaceae};
\node[labD] (lEls) at (598.6,1405.6) {f\_Elsinoaceae};
\node[labD] (lLop) at (517.1,1422.1) {g\_Lophium};
\node[labD] (lLos) at (741.3,1416.9) {g\_Lophiostoma};
\node[labD] (lEpi) at (587.0,1461.5) {g\_Epithamnolia};
\node[labD] (lLac) at (676.0,1463.5) {g\_Lactarius};
\node[labD] (lCon) at (534.2,1499.5) {g\_Coniochaeta};
\node[modl] (mod13) at (615.1,1520) {Module 13};
\node[labD] (lKri) at (934.7,1235.4) {o\_Kriegeriales};
\node[labD] (lTau) at (1020.5,1256.9) {g\_Tausonia};
\node[labD] (lPen) at (870.5,1275.2) {g\_Penicillium};
\node[labD] (lHyp) at (963.7,1299.3) {g\_Hypoxylon};
\node[labD] (lTri) at (904.2,1323.2) {g\_Trimmatostroma};
\node[labD] (lSet) at (790.9,1336.9) {g\_Setomelanomma};
\node[labD] (lArt) at (1007.5,1350.0) {g\_Arthrocatena};
\node[labD,text=labR] (lCol) at (958.3,1371.0) {g\_Colletotrichum (ASV358)};
\node[labD] (lMet) at (838.6,1393.3) {g\_Metapochonia};
\node[labD] (lCap2) at (992.9,1401.1) {g\_Capronia};
\node[labD] (lMic) at (930.4,1428.1) {g\_Microscypha};
\node[labD] (lFus) at (864.7,1454.9) {g\_Fusicladium};
\node[labD] (lArh) at (996.2,1454.4) {g\_Arthrinium};
\node[modl] (mod10) at (934.1,1520) {Module 10};

%%%%%%%%%%%%%%%% LEGEND %%%%%%%%%%%%%%%%
\coordinate (lg1) at (37,1556); \coordinate (lg2) at (128,1556);
\draw[draw=edgeG,line width=9pt] (lg1) -- (lg2);
\node[legt,anchor=west] (lgPos) at (143,1556) {Positive};
\coordinate (lg3) at (227,1556); \coordinate (lg4) at (317,1556);
\draw[draw=edgeG,line width=9pt,dash pattern=on 9pt off 7pt] (lg3) -- (lg4);
\node[legt,anchor=west] (lgNeg) at (331,1556) {Negative};
\node[circle,fill=edgeG,inner sep=0pt,minimum size=9pt] (lgD1) at (436,1556) {};
\node[circle,fill=edgeG,inner sep=0pt,minimum size=12pt] (lgD2) at (448,1556) {};
\node[circle,fill=edgeG,inner sep=0pt,minimum size=15pt] (lgD3) at (463,1556) {};
\node[legt,anchor=west] (lgDeg) at (484,1556) {Degree};
\node[legt,anchor=west] (lgAsv) at (566,1556) {ASV IDs: potential HupA-producing fungi, \textcolor{labR}{Module hubs}, \textcolor{labB}{Connectors}};
\end{tikzpicture}
\end{document}
